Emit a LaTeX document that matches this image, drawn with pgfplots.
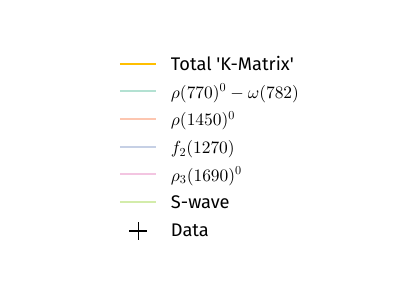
\documentclass[border=0pt]{standalone}
\usepackage[no-math]{fontspec}
\setmainfont{Fira Sans}[Ligatures=TeXOff]
\DeclareFontFamily{OML}{cmm}{\skewchar\font127 }
\DeclareFontShape{OML}{cmm}{m}{it}{<->cmmi10}{}
\DeclareFontFamily{OT1}{cmr}{\hyphenchar\font45 }
\DeclareFontShape{OT1}{cmr}{m}{n}{<->cmr10}{}
\DeclareFontFamily{OMS}{cmsy}{\skewchar\font48 }
\DeclareFontShape{OMS}{cmsy}{m}{n}{<->cmsy10}{}
\usepackage{pgfplots}
\pgfplotsset{compat=1.18}
\definecolor{ctotal}{HTML}{FFBF00}
\definecolor{crho}{HTML}{B3E1D2}
\definecolor{crhoB}{HTML}{FDC6B0}
\definecolor{cf}{HTML}{C6D0E5}
\definecolor{crhoC}{HTML}{F3C5E1}
\definecolor{cs}{HTML}{D3ECAA}
\newcommand{\mth}[1]{{\fontsize{12.6}{16}\selectfont$#1$}}
\begin{document}
\begin{tikzpicture}
\path[use as bounding box] (0,0) rectangle (4.07in,3.05in);
\begin{axis}[at={(0,0)}, anchor=south west, width=4.07in, height=3.05in,
  scale only axis, hide axis, xmin=0, xmax=1, ymin=0, ymax=1,
  legend cell align=left,
  legend style={at={(0.2924,0.8357)}, anchor=north west, draw=none, fill=none,
    inner sep=0pt, outer sep=0pt, row sep=0pt,
    nodes={inner sep=0pt, outer sep=0pt, text height=14.8pt, text depth=5.2pt,
      font=\fontsize{13.2}{16}\selectfont}},
  legend image code/.code={%
    \path[draw=none] (0in,0pt) -- (0.51in,0pt);
    \draw[#1, line width=1.4pt] (0in,0.2pt) -- (0.36in,0.2pt);},
]
\addlegendimage{ctotal}
\addlegendentry{Total 'K-Matrix'}
\addlegendimage{crho}
\addlegendentry{\mth{\rho(770)^0-\omega(782)}}
\addlegendimage{crhoB}
\addlegendentry{\mth{\rho(1450)^0}}
\addlegendimage{cf}
\addlegendentry{\mth{f_2(1270)}}
\addlegendimage{crhoC}
\addlegendentry{\mth{\rho_3(1690)^0}}
\addlegendimage{cs}
\addlegendentry{S-wave}
\addlegendimage{legend image code/.code={%
    \path[draw=none] (0in,0pt) -- (0.51in,0pt);
    \draw[black, line width=1.1pt] (0.185in,-0.6pt) ++(-6.5pt,0) -- ++(13pt,0)
      (0.185in,-0.6pt) ++(0,-6.5pt) -- ++(0,13pt);}}
\addlegendentry{Data}
\end{axis}
\end{tikzpicture}
\end{document}
